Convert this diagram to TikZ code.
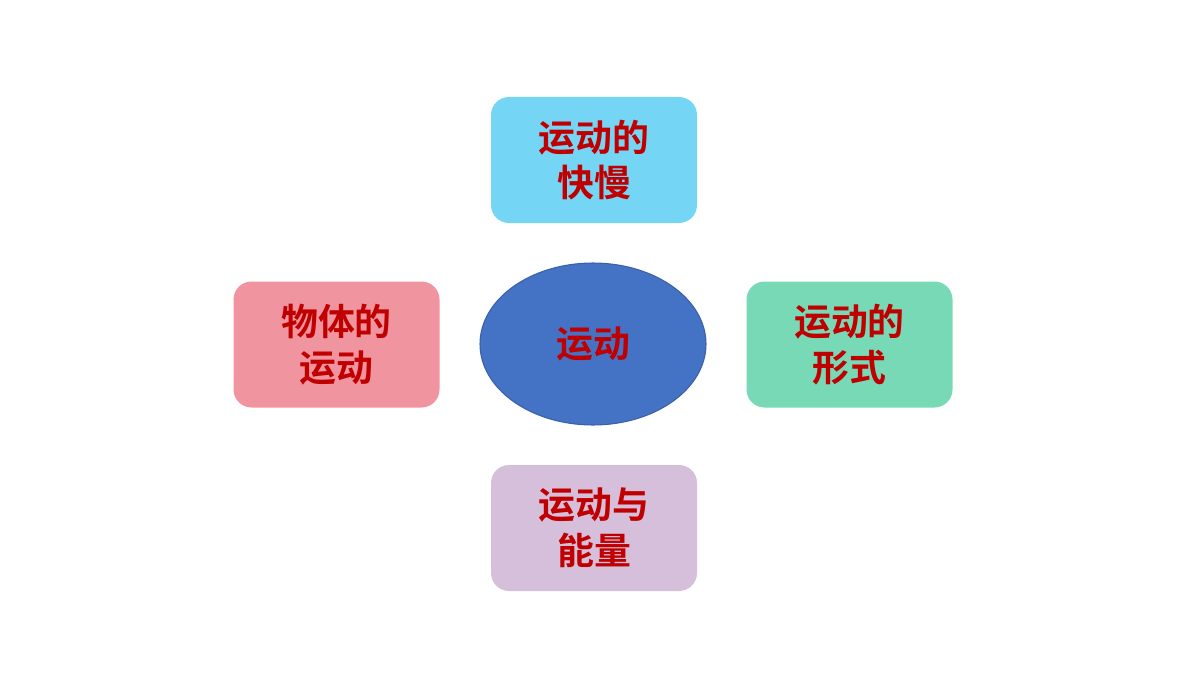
\documentclass[tikz,border=0pt]{standalone}
\usepackage{fontspec}
\newfontfamily\cjk{Noto Sans CJK SC Bold}
\usetikzlibrary{shapes.geometric}
\definecolor{tred}{HTML}{C00000}
\definecolor{cblue}{HTML}{75D5F5}
\definecolor{cpink}{HTML}{F0959F}
\definecolor{cgreen}{HTML}{77D9B5}
\definecolor{clav}{HTML}{D5BFDA}
\definecolor{cell}{HTML}{4472C4}
\begin{document}
\begin{tikzpicture}
\useasboundingbox (0,0) rectangle (24,13.5);
\tikzset{
  lbl/.style={font=\cjk\fontsize{21}{26}\selectfont, text=tred, align=center},
  topic/.style={lbl, rounded corners=0.36cm, minimum width=4.12cm, minimum height=2.52cm}
}
\node[topic, fill=cblue] (t) at (11.88,10.3) {运动的\\快慢};
\node[topic, fill=cpink] (l) at (6.73,6.61) {物体的\\运动};
\node[topic, fill=cgreen] (r) at (16.99,6.61) {运动的\\形式};
\node[topic, fill=clav] (b) at (11.88,2.94) {运动与\\能量};
\node[lbl, ellipse, fill=cell, draw=cell!85!black, line width=0.6pt, minimum width=4.52cm, minimum height=3.24cm, inner sep=0pt] (c) at (11.86,6.62) {运动};
\end{tikzpicture}
\end{document}
